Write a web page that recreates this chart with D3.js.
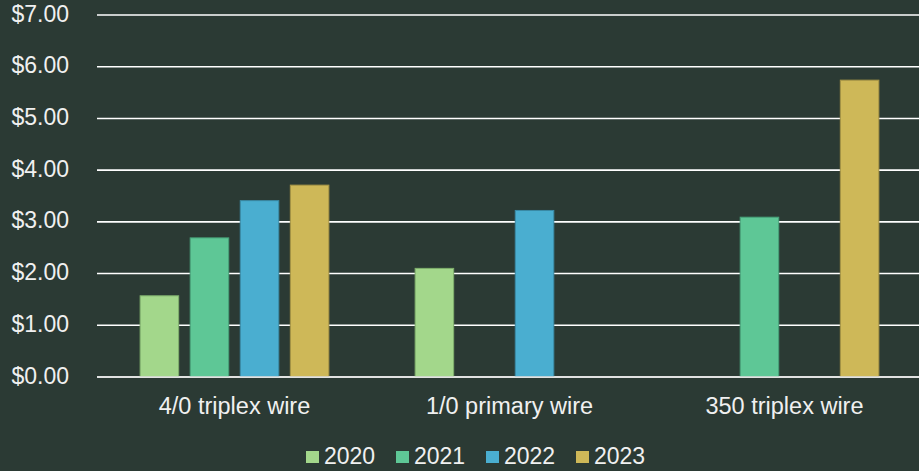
<!DOCTYPE html>
<html>
<head>
<meta charset="utf-8">
<script src="https://cdn.jsdelivr.net/npm/d3@7"></script>
<style>
  html, body { margin: 0; padding: 0; background: #2b3a34; }
  svg { display: block; }
  text { font-family: "Liberation Sans", Arial, sans-serif; fill: #f0f0f0; }
</style>
</head>
<body>
<svg id="chart" width="919" height="471"></svg>
<script>
const categories = ["4/0 triplex wire", "1/0 primary wire", "350 triplex wire"];
const years = ["2020", "2021", "2022", "2023"];
const values2020 = [1.58, 2.11, null];
const values2021 = [2.70, null, 3.10];
const values2022 = [3.42, 3.23, null];
const values2023 = [3.72, null, 5.75];
const yTicks = [0, 1, 2, 3, 4, 5, 6, 7];
const colors = ["#a3d78b", "#5ec796", "#4aaed0", "#ceb858"];
const strokes = ["#7fae6c", "#47a079", "#3a8aa6", "#a59345"];

const seriesValues = [values2020, values2021, values2022, values2023];
const data = categories.map((c, i) => ({
  category: c,
  values: years.map((y, j) => ({ year: y, idx: j, value: seriesValues[j][i] }))
}));

const svg = d3.select("#chart");
const W = 919, H = 471;
const margin = { left: 97, right: -3, top: 15, bottom: 94 };

const x0 = d3.scaleBand().domain(categories)
  .range([margin.left, W - margin.right])
  .paddingInner(0.31).paddingOuter(0.155);
const x1 = d3.scaleBand().domain(years)
  .range([0, x0.bandwidth()]).paddingInner(0.21);
const y = d3.scaleLinear().domain([0, 7]).range([H - margin.bottom, margin.top]);

// gridlines
svg.append("g").selectAll("line").data(yTicks).join("line")
  .attr("x1", margin.left).attr("x2", W)
  .attr("y1", d => y(d)).attr("y2", d => y(d))
  .attr("stroke", "#ffffff").attr("stroke-width", 1.6);

// y labels
svg.append("g").selectAll("text").data(yTicks).join("text")
  .attr("x", 69).attr("y", d => y(d) + 6.5)
  .attr("text-anchor", "end")
  .style("font-size", "23px")
  .text(d => "$" + d.toFixed(2));

// bars
const groups = svg.append("g").selectAll("g").data(data).join("g")
  .attr("transform", d => `translate(${x0(d.category)},0)`);
groups.selectAll("rect").data(d => d.values.filter(v => v.value != null)).join("rect")
  .attr("x", d => x1(d.year) + 0.5)
  .attr("y", d => y(d.value) + 0.5)
  .attr("width", x1.bandwidth() - 1)
  .attr("height", d => y(0) - y(d.value) - 1)
  .attr("fill", d => colors[d.idx])
  .attr("stroke", d => strokes[d.idx])
  .attr("stroke-width", 1);

// baseline over bars
svg.append("line")
  .attr("x1", margin.left).attr("x2", W)
  .attr("y1", y(0)).attr("y2", y(0))
  .attr("stroke", "#e8e8e8").attr("stroke-width", 1.6);

// category labels
svg.append("g").selectAll("text").data(categories).join("text")
  .attr("x", d => x0(d) + x0.bandwidth() / 2)
  .attr("y", 414)
  .attr("text-anchor", "middle")
  .style("font-size", "23.5px")
  .text(d => d);

// legend
const legend = svg.append("g").selectAll("g").data(years).join("g")
  .attr("transform", (d, i) => `translate(${306 + i * 90},451)`);
legend.append("rect")
  .attr("width", 13).attr("height", 12)
  .attr("fill", (d, i) => colors[i]);
legend.append("text")
  .attr("x", 18).attr("y", 13)
  .style("font-size", "23px")
  .text(d => d);
</script>
</body>
</html>
